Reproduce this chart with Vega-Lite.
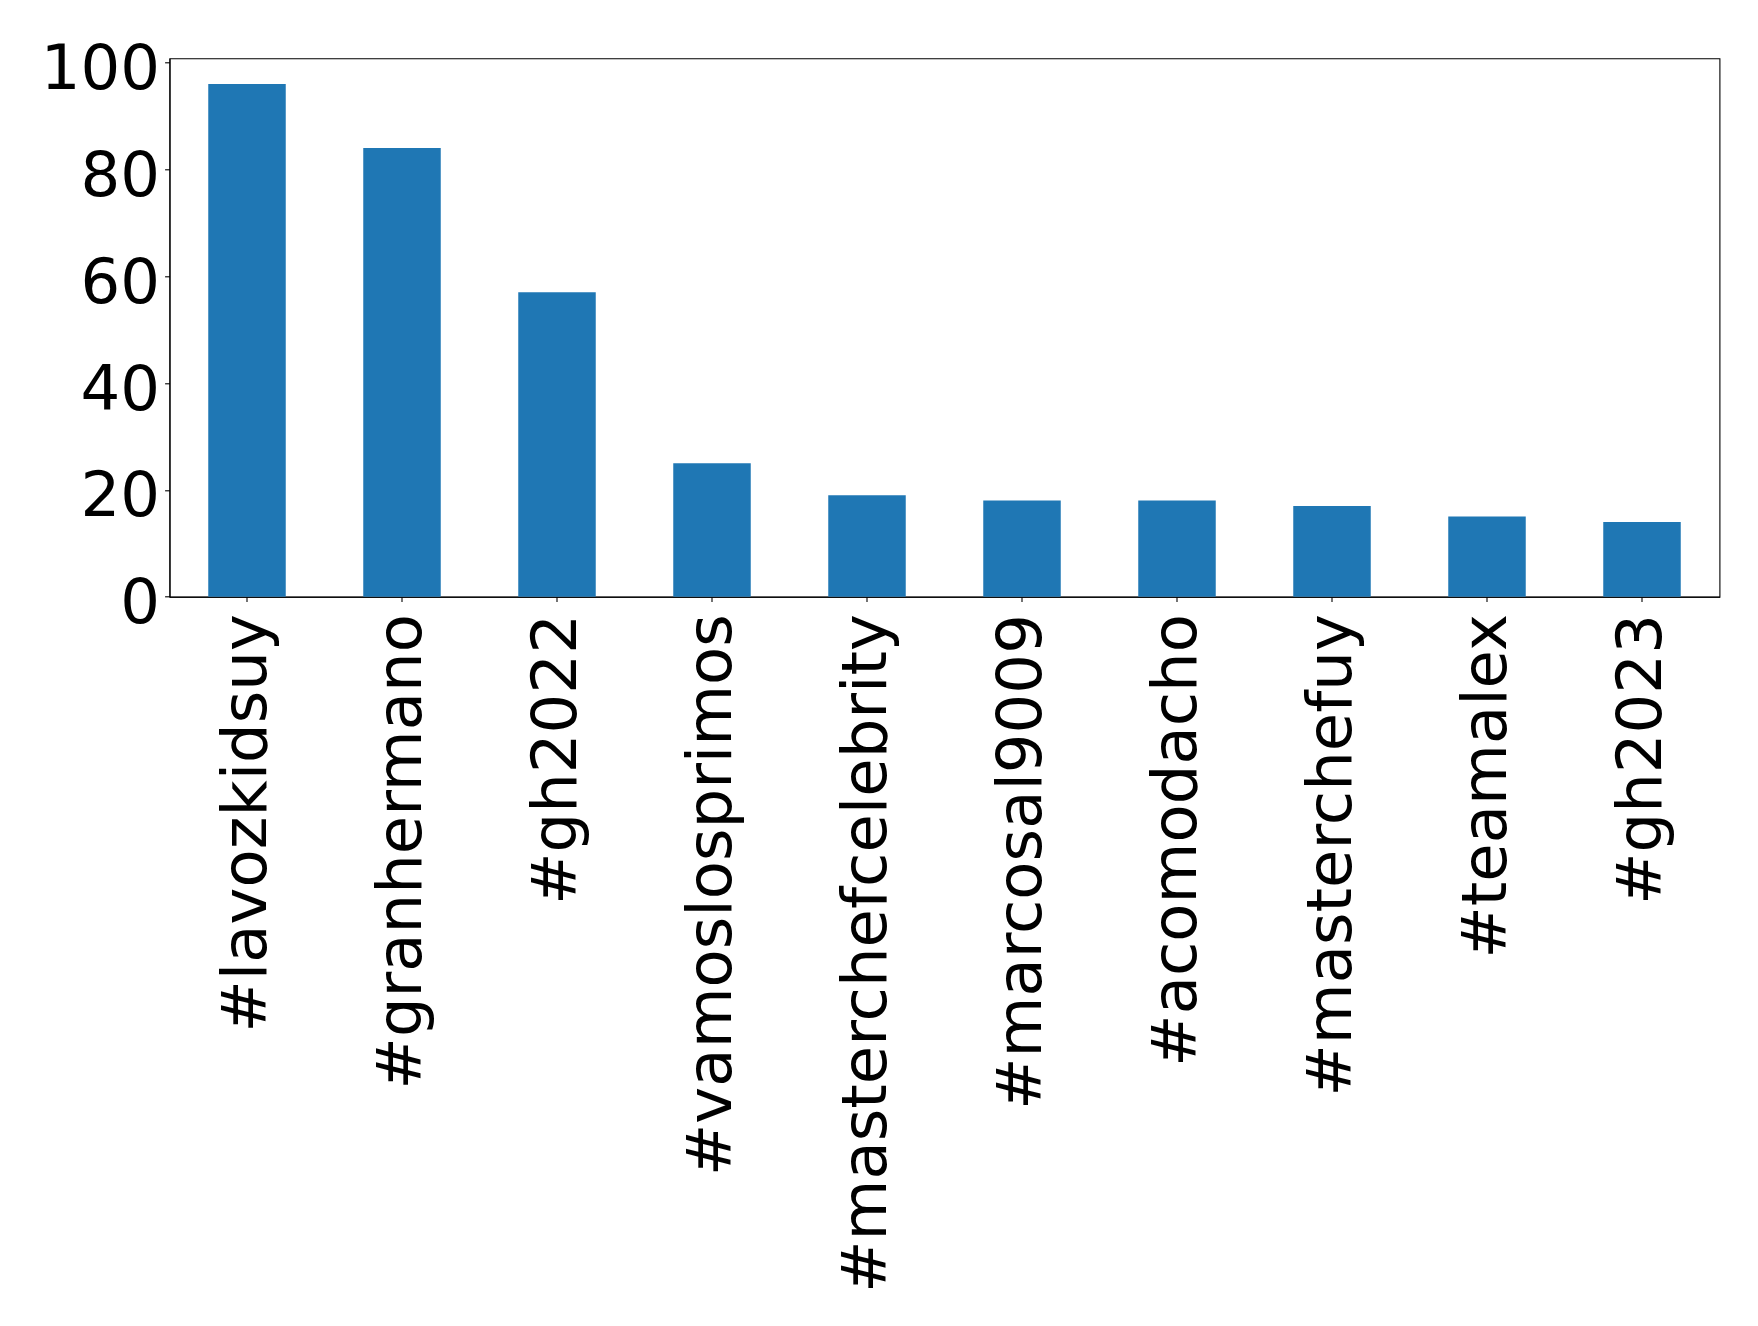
{
  "$schema": "https://vega.github.io/schema/vega-lite/v6.json",
  "width": 1550,
  "height": 538.4,
  "autosize": {"type": "none"},
  "padding": {"left": 169.5, "top": 58.3, "right": 38.5, "bottom": 729.3},
  "background": "white",
  "config": {
    "view": {"stroke": "black", "strokeWidth": 1.1},
    "font": "DejaVu Sans",
    "axis": {
      "labelFont": "DejaVu Sans",
      "labelFontSize": 62.5,
      "labelColor": "black",
      "domainColor": "black",
      "domainWidth": 1.1,
      "tickColor": "black",
      "tickWidth": 1.1,
      "tickSize": 4.9,
      "grid": false,
      "title": null
    }
  },
  "data": {
    "values": [
      {"hashtag": "#lavozkidsuy", "count": 96},
      {"hashtag": "#granhermano", "count": 84},
      {"hashtag": "#gh2022", "count": 57},
      {"hashtag": "#vamoslosprimos", "count": 25},
      {"hashtag": "#masterchefcelebrity", "count": 19},
      {"hashtag": "#marcosal9009", "count": 18},
      {"hashtag": "#acomodacho", "count": 18},
      {"hashtag": "#masterchefuy", "count": 17},
      {"hashtag": "#teamalex", "count": 15},
      {"hashtag": "#gh2023", "count": 14}
    ]
  },
  "mark": {"type": "bar", "color": "#1f77b4"},
  "encoding": {
    "x": {
      "field": "hashtag",
      "type": "nominal",
      "sort": null,
      "scale": {"paddingInner": 0.5, "paddingOuter": 0.25},
      "axis": {"labelAngle": -90, "labelPadding": 12, "labelLimit": 0}
    },
    "y": {
      "field": "count",
      "type": "quantitative",
      "scale": {"domain": [0, 100.8], "nice": false, "zero": true},
      "axis": {"values": [0, 20, 40, 60, 80, 100], "labelPadding": 5, "labelBaseline": "alphabetic", "labelOffset": 26}
    }
  }
}
